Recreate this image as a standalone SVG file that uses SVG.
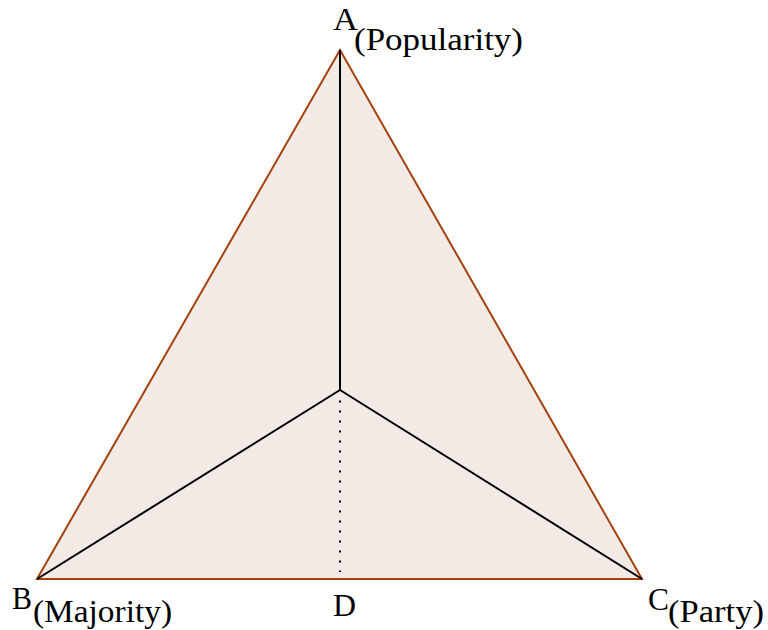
<svg xmlns="http://www.w3.org/2000/svg" width="768" height="630" viewBox="0 0 768 630">
<style>
.lbl{font-family:"Liberation Serif","Times New Roman",serif;font-size:31px;fill:#000}
.edge{stroke:#000;stroke-width:2;fill:none}
</style>
<rect width="768" height="630" fill="#fff"/>
<g id="triangle">
<polygon points="340,50 37,579 642,579" fill="#f3e9e5" stroke="#a4420f" stroke-width="2" stroke-linejoin="miter"/>
</g>
<g id="connectors">
<line class="edge" x1="340" y1="50" x2="340" y2="390"/>
<line class="edge" x1="37" y1="579" x2="340" y2="390"/>
<line class="edge" x1="642" y1="579" x2="340" y2="390"/>
<line x1="340" y1="400.5" x2="340" y2="572" stroke="#000" stroke-width="2" stroke-dasharray="2 8"/>
</g>
<g id="A"><text class="lbl" x="333" y="30" textLength="25" lengthAdjust="spacingAndGlyphs">A</text><text class="lbl" x="354" y="50" textLength="169" lengthAdjust="spacingAndGlyphs">(Popularity)</text></g>
<g id="B"><text class="lbl" x="12" y="609" textLength="20" lengthAdjust="spacingAndGlyphs">B</text><text class="lbl" x="33" y="622" textLength="139" lengthAdjust="spacingAndGlyphs">(Majority)</text></g>
<g id="C"><text class="lbl" x="648" y="610" textLength="21" lengthAdjust="spacingAndGlyphs">C</text><text class="lbl" x="668" y="622" textLength="96" lengthAdjust="spacingAndGlyphs">(Party)</text></g>
<g id="D"><text class="lbl" x="333" y="616" textLength="23" lengthAdjust="spacingAndGlyphs">D</text></g>
</svg>
